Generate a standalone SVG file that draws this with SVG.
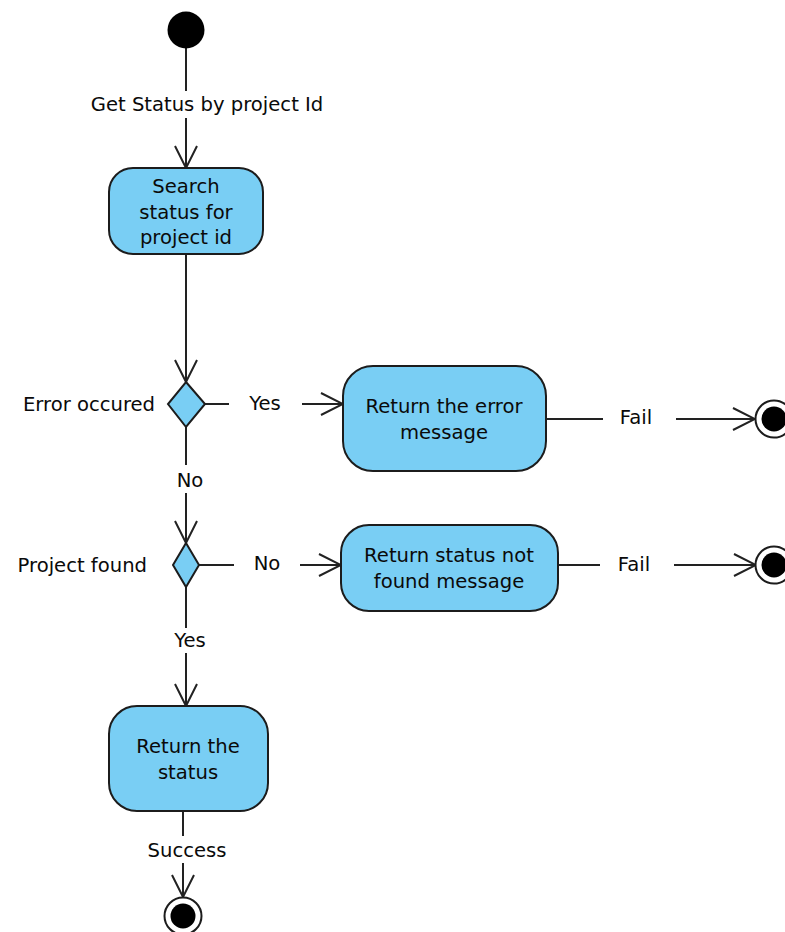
<svg xmlns="http://www.w3.org/2000/svg" width="785" height="932" viewBox="0 0 785 932">
  <style>
    .action { fill: #79cef4; stroke: #1c1c1c; stroke-width: 2; }
    .decision { fill: #79cef4; stroke: #1c1c1c; stroke-width: 2; }
    .edge { fill: none; stroke: #222; stroke-width: 2; }
    .lbl { font-family: "DejaVu Sans", "Liberation Sans", sans-serif; font-size: 19.6px; fill: #0a0a0a; }
    .mid { text-anchor: middle; }
    .end { text-anchor: end; }
    .final-ring { fill: #fff; stroke: #1c1c1c; stroke-width: 2; }
  </style>
  <defs>
    <marker id="open-arrow" markerUnits="userSpaceOnUse" viewBox="0 0 24 24" markerWidth="24" markerHeight="24" refX="23" refY="12" orient="auto">
      <path d="M1,1 L23,12 L1,23" fill="none" stroke="#222" stroke-width="2"/>
    </marker>
  </defs>
  <rect width="785" height="932" fill="#fff"/>

  <g id="connectors">
    <line class="edge" x1="186" y1="48" x2="186" y2="91"/>
    <line class="edge" x1="186" y1="118" x2="186" y2="168" marker-end="url(#open-arrow)"/>
    <text class="lbl mid" x="207" y="111">Get Status by project Id</text>

    <line class="edge" x1="186" y1="255" x2="186" y2="382" marker-end="url(#open-arrow)"/>

    <line class="edge" x1="205" y1="404" x2="229" y2="404"/>
    <line class="edge" x1="302" y1="404" x2="343" y2="404" marker-end="url(#open-arrow)"/>
    <text class="lbl mid" x="265" y="410">Yes</text>

    <line class="edge" x1="546" y1="419" x2="603" y2="419"/>
    <line class="edge" x1="676" y1="419" x2="755" y2="419" marker-end="url(#open-arrow)"/>
    <text class="lbl mid" x="636" y="424">Fail</text>

    <line class="edge" x1="186" y1="427" x2="186" y2="465"/>
    <line class="edge" x1="186" y1="493" x2="186" y2="543" marker-end="url(#open-arrow)"/>
    <text class="lbl mid" x="190" y="487">No</text>

    <line class="edge" x1="199" y1="565" x2="234" y2="565"/>
    <line class="edge" x1="300" y1="565" x2="341" y2="565" marker-end="url(#open-arrow)"/>
    <text class="lbl mid" x="267" y="570">No</text>

    <line class="edge" x1="558" y1="565" x2="600" y2="565"/>
    <line class="edge" x1="674" y1="565" x2="756" y2="565" marker-end="url(#open-arrow)"/>
    <text class="lbl mid" x="634" y="571">Fail</text>

    <line class="edge" x1="186" y1="587" x2="186" y2="628"/>
    <line class="edge" x1="186" y1="653" x2="186" y2="706" marker-end="url(#open-arrow)"/>
    <text class="lbl mid" x="190" y="647">Yes</text>

    <line class="edge" x1="183" y1="811" x2="183" y2="836"/>
    <line class="edge" x1="183" y1="863" x2="183" y2="897" marker-end="url(#open-arrow)"/>
    <text class="lbl mid" x="187" y="857">Success</text>
  </g>

  <g id="start">
    <circle cx="186" cy="30" r="18.5" fill="#000"/>
  </g>

  <g id="search-status">
    <rect class="action" x="109" y="168" width="154" height="86" rx="24"/>
    <text class="lbl mid" x="186" y="193">Search</text>
    <text class="lbl mid" x="186" y="218.5">status for</text>
    <text class="lbl mid" x="186" y="244">project id</text>
  </g>

  <g id="error-occured">
    <polygon class="decision" points="186,382 205,404 186,427 168,404"/>
    <text class="lbl end" x="155" y="411">Error occured</text>
  </g>

  <g id="return-error">
    <rect class="action" x="343" y="366" width="203" height="105" rx="30"/>
    <text class="lbl mid" x="444" y="413">Return the error</text>
    <text class="lbl mid" x="444" y="439">message</text>
  </g>

  <g id="final-error">
    <circle class="final-ring" cx="774" cy="419" r="18.5"/>
    <circle cx="774" cy="419" r="12.5" fill="#000"/>
  </g>

  <g id="project-found">
    <polygon class="decision" points="186,543 199,565 186,587 173,565"/>
    <text class="lbl end" x="147" y="572">Project found</text>
  </g>

  <g id="return-not-found">
    <rect class="action" x="341" y="525" width="217" height="86" rx="28"/>
    <text class="lbl mid" x="449" y="562">Return status not</text>
    <text class="lbl mid" x="449" y="588">found message</text>
  </g>

  <g id="final-not-found">
    <circle class="final-ring" cx="774" cy="565" r="18.5"/>
    <circle cx="774" cy="565" r="12.5" fill="#000"/>
  </g>

  <g id="return-status">
    <rect class="action" x="109" y="706" width="159" height="105" rx="28"/>
    <text class="lbl mid" x="188" y="753">Return the</text>
    <text class="lbl mid" x="188" y="779">status</text>
  </g>

  <g id="final-success">
    <circle class="final-ring" cx="183" cy="916" r="18.5"/>
    <circle cx="183" cy="916" r="12.5" fill="#000"/>
  </g>
</svg>
